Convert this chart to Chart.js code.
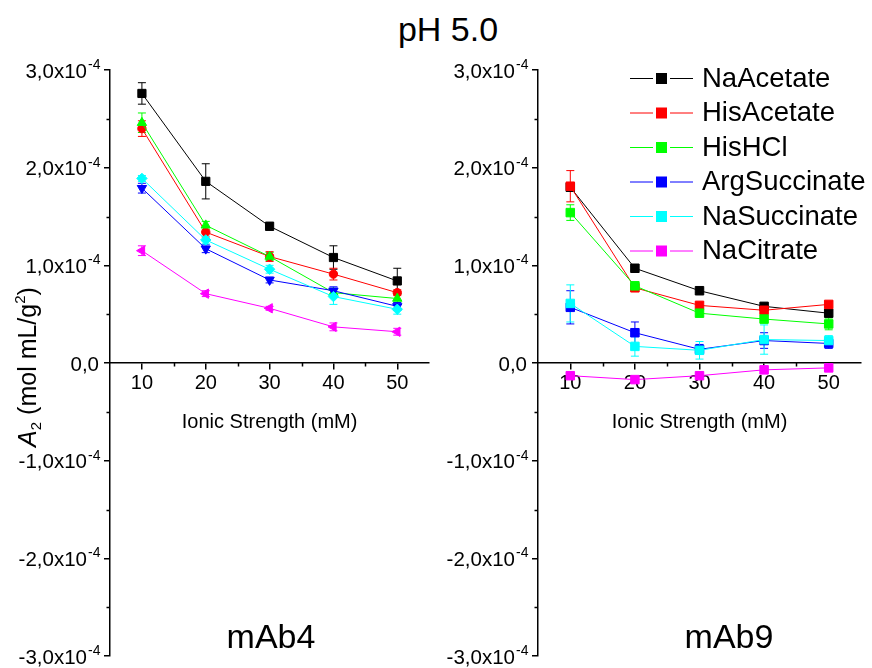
<!DOCTYPE html>
<html>
<head>
<meta charset="utf-8">
<title>pH 5.0 – A2 vs ionic strength</title>
<script src="https://cdn.jsdelivr.net/npm/chart.js@4.4.1/dist/chart.umd.min.js"></script>
<style>
  html, body { margin: 0; padding: 0; background: #fff; }
  #wrap { position: relative; width: 872px; height: 668px; overflow: hidden; background: #fff; }
  #wrap canvas { position: absolute; top: 0; }
  #title {
    position: absolute; left: 0; width: 896px; top: 12px; text-align: center;
    font: 34px "Liberation Sans", Arial, sans-serif; line-height: 34px; color: #000;
  }
</style>
</head>
<body>
<div id="wrap">
  <div id="title">pH 5.0</div>
  <canvas id="panelLeft" width="436" height="668" style="left:0"></canvas>
  <canvas id="panelRight" width="436" height="668" style="left:436px"></canvas>
</div>
<script>
// ---- data -------------------------------------------------------------
const A2_UNIT = 1e-4;                       // values below are in 10^-4 mol mL/g^2
const ionicStrength = [10, 20, 30, 40, 50]; // mM
const seriesNames = ['NaAcetate', 'HisAcetate', 'HisHCl', 'ArgSuccinate', 'NaSuccinate', 'NaCitrate'];
const yTickValues = [-3e-4, -2e-4, -1e-4, 0, 1e-4, 2e-4, 3e-4];
const yMinorValues = [-2.5e-4, -1.5e-4, -0.5e-4, 0.5e-4, 1.5e-4, 2.5e-4];
const xMinorValues = [15, 25, 35, 45];

// mAb4
const mAb4NaAcetate        = [2.76, 1.86, 1.40, 1.08, 0.84];
const mAb4NaAcetateErr     = [0.11, 0.18, 0.04, 0.12, 0.13];
const mAb4HisAcetate       = [2.40, 1.34, 1.09, 0.91, 0.72];
const mAb4HisAcetateErr    = [0.08, 0.05, 0.05, 0.06, 0.03];
const mAb4HisHCl           = [2.46, 1.41, 1.09, 0.72, 0.66];
const mAb4HisHClErr        = [0.10, 0.04, 0.04, 0.03, 0.04];
const mAb4ArgSuccinate     = [1.79, 1.17, 0.85, 0.74, 0.58];
const mAb4ArgSuccinateErr  = [0.05, 0.04, 0.03, 0.04, 0.04];
const mAb4NaSuccinate      = [1.89, 1.26, 0.96, 0.68, 0.55];
const mAb4NaSuccinateErr   = [0.03, 0.04, 0.04, 0.08, 0.05];
const mAb4NaCitrate        = [1.15, 0.71, 0.56, 0.37, 0.32];
const mAb4NaCitrateErr     = [0.05, 0.03, 0.02, 0.04, 0.035];

// mAb9
const mAb9NaAcetate        = [1.80, 0.97, 0.74, 0.58, 0.51];
const mAb9NaAcetateErr     = [0.02, 0.02, 0.02, 0.02, 0.03];
const mAb9HisAcetate       = [1.81, 0.77, 0.59, 0.54, 0.60];
const mAb9HisAcetateErr    = [0.16, 0.03, 0.03, 0.04, 0.03];
const mAb9HisHCl           = [1.54, 0.79, 0.51, 0.45, 0.40];
const mAb9HisHClErr        = [0.08, 0.04, 0.03, 0.04, 0.06];
const mAb9ArgSuccinate     = [0.57, 0.31, 0.14, 0.23, 0.20];
const mAb9ArgSuccinateErr  = [0.17, 0.11, 0.05, 0.08, 0.05];
const mAb9NaSuccinate      = [0.61, 0.17, 0.13, 0.24, 0.23];
const mAb9NaSuccinateErr   = [0.19, 0.10, 0.09, 0.15, 0.05];
const mAb9NaCitrate        = [-0.13, -0.17, -0.13, -0.07, -0.05];
const mAb9NaCitrateErr     = [0.02, 0.02, 0.02, 0.02, 0.02];

// ---- styling ------------------------------------------------------------
const FONT = '"Liberation Sans", Arial, Helvetica, sans-serif';
const seriesColors = ['#000000', '#ff0000', '#00ff00', '#0000ff', '#00ffff', '#ff00ff'];
const mAb4Markers = [
  { style: 'rect', radius: 5.8, rotation: 0 },
  { style: 'circle', radius: 4.2, rotation: 0 },
  { style: 'triangle', radius: 5.4, rotation: 0 },
  { style: 'triangle', radius: 5.4, rotation: 180 },
  { style: 'rectRot', radius: 5.2, rotation: 0 },
  { style: 'triangle', radius: 5.4, rotation: 270 }
];
const mAb9Markers = seriesNames.map(() => ({ style: 'rect', radius: 6, rotation: 0 }));

function mantissa(v) {
  const m = Math.round(v / 1e-4 * 10) / 10;
  return (m === 0 ? 0 : m).toFixed(1).replace('.', ',');
}

// Error bars, minor ticks, superscripted tick labels, axis title, panel label, legend
const panelDecor = {
  id: 'panelDecor',
  beforeDatasetsDraw(chart, args, opts) {
    const ctx = chart.ctx;
    const xs = chart.scales.x, ys = chart.scales.y;
    ctx.save();
    ctx.lineWidth = 1;
    opts.errors.forEach((errs, d) => {
      const vals = opts.values[d];
      ctx.strokeStyle = seriesColors[d];
      errs.forEach((e, i) => {
        const x = xs.getPixelForValue(ionicStrength[i]);
        const yt = ys.getPixelForValue((vals[i] + e) * A2_UNIT);
        const yb = ys.getPixelForValue((vals[i] - e) * A2_UNIT);
        ctx.beginPath();
        ctx.moveTo(x, yt); ctx.lineTo(x, yb);
        ctx.moveTo(x - 4, yt); ctx.lineTo(x + 4, yt);
        ctx.moveTo(x - 4, yb); ctx.lineTo(x + 4, yb);
        ctx.stroke();
      });
    });
    ctx.restore();
  },
  afterDraw(chart, args, opts) {
    const ctx = chart.ctx;
    const xs = chart.scales.x, ys = chart.scales.y;
    const area = chart.chartArea;
    const axisX = area.left;
    const zeroY = ys.getPixelForValue(0);
    ctx.save();
    ctx.strokeStyle = '#000';
    ctx.lineWidth = 1.5;
    ctx.beginPath();
    yMinorValues.forEach(v => {
      const y = Math.round(ys.getPixelForValue(v)) + 0.5;
      ctx.moveTo(axisX - 3.5, y); ctx.lineTo(axisX, y);
    });
    xMinorValues.forEach(v => {
      const x = Math.round(xs.getPixelForValue(v)) + 0.5;
      ctx.moveTo(x, zeroY); ctx.lineTo(x, zeroY + 3.5);
    });
    ctx.stroke();

    // y tick labels: "n,nx10" with superscript exponent
    ctx.fillStyle = '#000';
    ctx.textBaseline = 'alphabetic';
    yTickValues.forEach(v => {
      const y = ys.getPixelForValue(v);
      ctx.font = '20.5px ' + FONT;
      ctx.textAlign = 'right';
      if (v === 0) {
        ctx.fillText('0,0', axisX - 11, y + 7.5);
        return;
      }
      ctx.fillText(mantissa(v) + 'x10', axisX - 23, y + 7.5);
      ctx.font = '14px ' + FONT;
      ctx.textAlign = 'left';
      ctx.fillText('-4', axisX - 22, y - 1);
    });

    // y axis title: A2 (mol mL/g2)
    if (opts.yTitle) {
      ctx.translate(opts.yTitle.x, opts.yTitle.y);
      ctx.rotate(-Math.PI / 2);
      const parts = [
        { t: 'A', f: 'italic 25px ' + FONT, dy: 0 },
        { t: '2', f: '15px ' + FONT, dy: 5 },
        { t: ' (mol mL/g', f: '25px ' + FONT, dy: 0 },
        { t: '2', f: '15px ' + FONT, dy: -11 },
        { t: ')', f: '25px ' + FONT, dy: 0 }
      ];
      let total = 0;
      parts.forEach(p => { ctx.font = p.f; p.w = ctx.measureText(p.t).width; total += p.w; });
      let cx = -total / 2;
      ctx.textAlign = 'left';
      parts.forEach(p => { ctx.font = p.f; ctx.fillText(p.t, cx, 9 + p.dy); cx += p.w; });
      ctx.setTransform(1, 0, 0, 1, 0, 0);
    }

    // panel label
    ctx.font = '34px ' + FONT;
    ctx.textAlign = 'center';
    ctx.textBaseline = 'alphabetic';
    ctx.fillText(opts.label, opts.labelX, 648);

    // legend
    if (opts.legend) {
      const L = opts.legend;
      seriesNames.forEach((name, i) => {
        const y = L.top + i * L.step;
        const col = seriesColors[i];
        ctx.strokeStyle = col;
        ctx.lineWidth = 1;
        ctx.beginPath();
        ctx.moveTo(L.x, y + 0.5); ctx.lineTo(L.x + 23, y + 0.5);
        ctx.moveTo(L.x + 40, y + 0.5); ctx.lineTo(L.x + 63, y + 0.5);
        ctx.stroke();
        ctx.fillStyle = col;
        ctx.fillRect(L.x + 26, y - 5, 11, 11);
        ctx.fillStyle = '#000';
        ctx.font = '27.5px ' + FONT;
        ctx.textAlign = 'left';
        ctx.textBaseline = 'middle';
        ctx.fillText(name, L.x + 72, y + 1);
      });
    }
    ctx.restore();
  }
};

function buildPanel(canvasId, values, errors, markers, decor, axisWidth, padRight) {
  const datasets = values.map((vals, i) => ({
    label: seriesNames[i],
    data: ionicStrength.map((x, j) => ({ x: x, y: vals[j] * A2_UNIT })),
    borderColor: seriesColors[i],
    backgroundColor: seriesColors[i],
    pointBackgroundColor: seriesColors[i],
    pointBorderColor: seriesColors[i],
    pointBorderWidth: 1,
    borderWidth: 1,
    pointStyle: markers[i].style,
    pointRadius: markers[i].radius,
    pointHoverRadius: markers[i].radius,
    pointRotation: markers[i].rotation,
    tension: 0,
    fill: false,
    order: values.length - i
  }));
  decor.values = values;
  decor.errors = errors;
  return new Chart(document.getElementById(canvasId), {
    type: 'line',
    data: { datasets },
    options: {
      responsive: false,
      animation: false,
      devicePixelRatio: 1,
      layout: { padding: { top: 70, bottom: 12, left: 0, right: padRight } },
      plugins: { legend: { display: false }, tooltip: { enabled: false }, panelDecor: decor },
      scales: {
        x: {
          type: 'linear', min: 5, max: 55,
          position: { y: 0 },
          afterBuildTicks: s => { s.ticks = ionicStrength.map(v => ({ value: v })); },
          grid: { display: true, drawOnChartArea: false, drawTicks: true, tickLength: 6, color: '#000', lineWidth: 1.5 },
          border: { display: true, color: '#000', width: 1.5 },
          ticks: { color: '#000', font: { family: FONT, size: 20 }, padding: 2, maxRotation: 0, autoSkip: false },
          title: { display: true, text: 'Ionic Strength (mM)', color: '#000', font: { family: FONT, size: 20 }, padding: { top: 13, bottom: 0 } }
        },
        y: {
          type: 'linear', min: -3e-4, max: 3e-4,
          afterBuildTicks: s => { s.ticks = yTickValues.map(v => ({ value: v })); },
          afterFit: s => { s.width = axisWidth; },
          grid: { display: true, drawOnChartArea: false, drawTicks: true, tickLength: 6, color: '#000', lineWidth: 1.5 },
          border: { display: true, color: '#000', width: 1.5 },
          ticks: { display: false }
        }
      }
    },
    plugins: [panelDecor]
  });
}

buildPanel('panelLeft',
  [mAb4NaAcetate, mAb4HisAcetate, mAb4HisHCl, mAb4ArgSuccinate, mAb4NaSuccinate, mAb4NaCitrate],
  [mAb4NaAcetateErr, mAb4HisAcetateErr, mAb4HisHClErr, mAb4ArgSuccinateErr, mAb4NaSuccinateErr, mAb4NaCitrateErr],
  mAb4Markers,
  { label: 'mAb4', labelX: 271, yTitle: { x: 27, y: 367 } },
  110, 4);

buildPanel('panelRight',
  [mAb9NaAcetate, mAb9HisAcetate, mAb9HisHCl, mAb9ArgSuccinate, mAb9NaSuccinate, mAb9NaCitrate],
  [mAb9NaAcetateErr, mAb9HisAcetateErr, mAb9HisHClErr, mAb9ArgSuccinateErr, mAb9NaSuccinateErr, mAb9NaCitrateErr],
  mAb9Markers,
  { label: 'mAb9', labelX: 729 - 436, legend: { x: 630 - 436, top: 78, step: 34.5 } },
  102, 11);
</script>
</body>
</html>
